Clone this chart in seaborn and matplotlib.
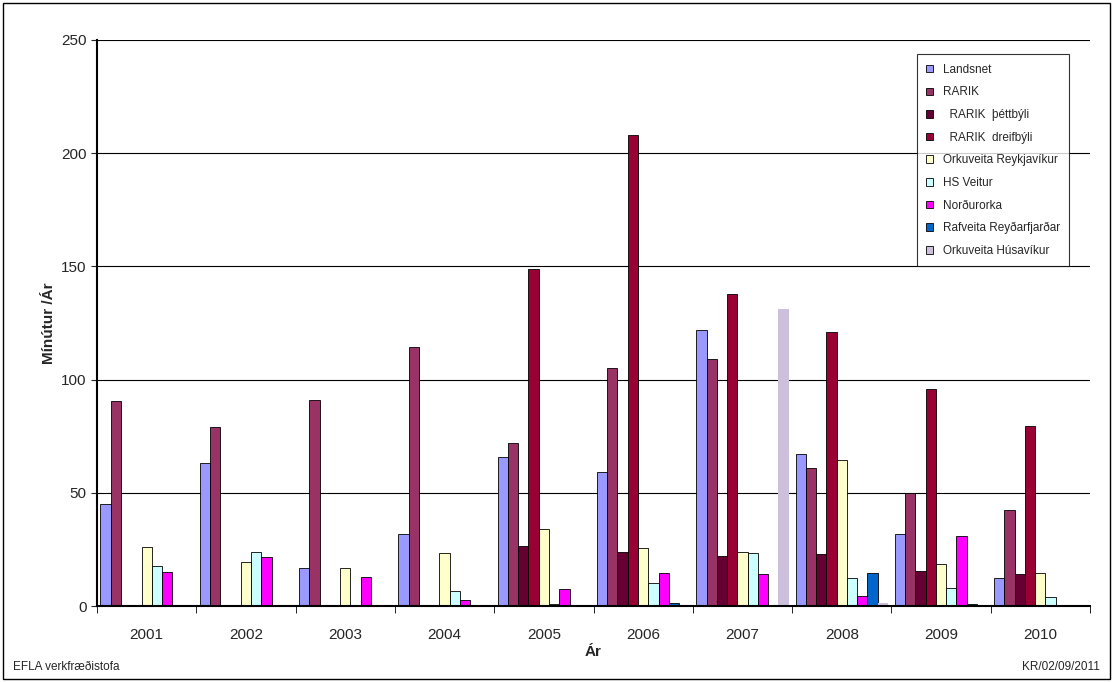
import pandas as pd
import seaborn as sns
import matplotlib.pyplot as plt
from matplotlib.ticker import FixedLocator

years = ['2001', '2002', '2003', '2004', '2005', '2006', '2007', '2008', '2009', '2010']
series = ['Landsnet', 'RARIK', '  RARIK  þéttbýli', '  RARIK  dreifbýli', 'Orkuveita Reykjavíkur',
          'HS Veitur', 'Norðurorka', 'Rafveita Reyðarfjarðar', 'Orkuveita Húsavíkur']
landsnet = [45, 63, 17, 32, 66, 59, 122, 67, 32, 12.5]
rarik = [90.5, 79, 91, 114.5, 72, 105, 109, 61, 50, 42.5]
rarik_thett = [0, 0, 0, 0, 26.5, 24, 22, 23, 15.5, 14]
rarik_dreif = [0, 0, 0, 0, 149, 208, 138, 121, 96, 79.5]
orkuveita_rvk = [26, 19.5, 17, 23.5, 34, 25.5, 24, 64.5, 18.5, 14.5]
hs_veitur = [17.5, 24, 0.5, 6.5, 1, 10, 23.5, 12.5, 8, 4]
nordurorka = [15, 21.5, 13, 2.5, 7.5, 14.5, 14, 4.5, 31, 0]
rafveita = [0, 0, 0, 0, 0, 1.5, 0.5, 14.5, 1, 0.5]
husavik = [0, 0, 0, 0, 0, 0, 131, 1.5, 0, 0]
colors = ['#9999ff', '#993366', '#660033', '#990033', '#ffffcc', '#ccffff', '#ff00ff', '#0066cc', '#ccc0dc']

values = [landsnet, rarik, rarik_thett, rarik_dreif, orkuveita_rvk, hs_veitur, nordurorka, rafveita, husavik]
rows = []
for name, vals in zip(series, values):
    for y, v in zip(years, vals):
        rows.append({'Ár': y, 'series': name, 'value': v})
df = pd.DataFrame(rows)

sns.set_style('white')
plt.rcParams['font.family'] = ['Liberation Sans', 'DejaVu Sans']
fig = plt.figure(figsize=(11.13, 6.82), dpi=100)
ax = fig.add_axes([97/1113, 76/682, 993/1113, 566/682])

sns.barplot(data=df, x='Ár', y='value', hue='series', palette=colors, width=0.93, saturation=1,
            edgecolor='black', linewidth=0.6, ax=ax, legend=True)
# Húsavík bars have no outline
for p in ax.containers[-1]:
    p.set_edgecolor('none')

ax.set_xlim(-0.5, 9.5)
ax.set_ylim(0, 250)
ax.set_yticks(range(0, 251, 50))
ax.yaxis.grid(True, color='black', linewidth=0.8)
ax.set_axisbelow(True)
for s in ['top', 'right']:
    ax.spines[s].set_visible(False)
for s in ['left', 'bottom']:
    ax.spines[s].set_linewidth(1.5)
    ax.spines[s].set_color('black')
ax.tick_params(axis='x', which='major', length=0, pad=16)
ax.xaxis.set_minor_locator(FixedLocator([i - 0.5 for i in range(11)]))
ax.tick_params(axis='x', which='minor', length=5, bottom=True, color='black')
ax.tick_params(axis='y', length=4, left=True)
ax.tick_params(axis='both', labelsize=11)
ax.set_xlabel('Ár', fontsize=11, fontweight='bold', labelpad=2)
ax.set_ylabel('Mínútur /Ár', fontsize=11, fontweight='bold')

leg = ax.legend(loc='upper right', bbox_to_anchor=(0.985, 0.985), fontsize=8.5, frameon=True,
                fancybox=False, edgecolor='black', handlelength=0.6, handleheight=0.6,
                labelspacing=0.9, borderpad=0.8)
leg.get_frame().set_linewidth(0.8)

fig.text(13/1113, 1 - 667/682, 'EFLA verkfræðistofa', fontsize=8.5, va='center')
fig.text(1100/1113, 1 - 667/682, 'KR/02/09/2011', fontsize=8.5, va='center', ha='right')
fig.patches.append(plt.Rectangle((0.003, 0.004), 0.994, 0.992, transform=fig.transFigure,
                                 fill=False, edgecolor='black', linewidth=1))
fig.savefig('out.png', dpi=100)
